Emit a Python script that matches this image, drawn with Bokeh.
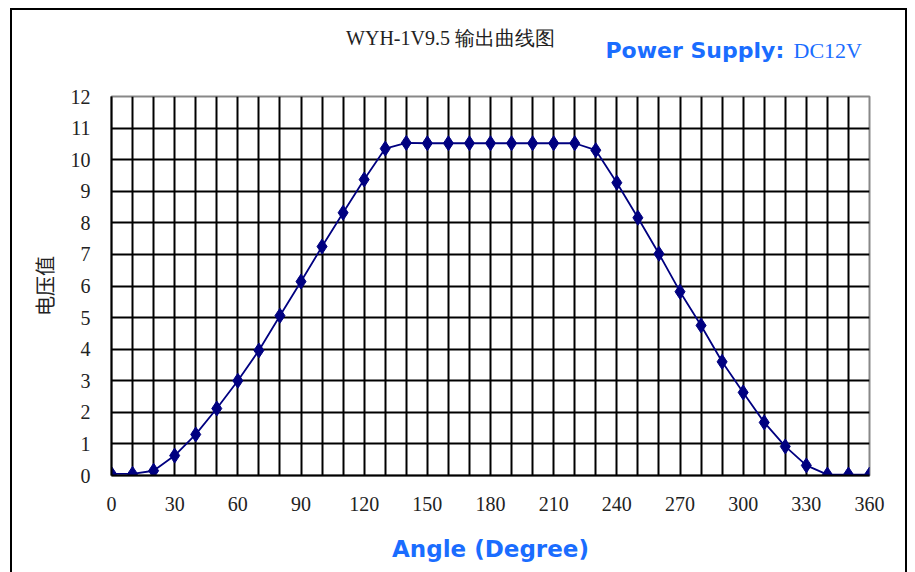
from bokeh.plotting import figure
from bokeh.models import FixedTicker, Range1d
from bokeh.layouts import column
from bokeh.core.properties import value
from bokeh.embed import file_html
from bokeh.resources import INLINE

angles = [0, 10, 20, 30, 40, 50, 60, 70, 80, 90, 100, 110, 120, 130, 140, 150, 160, 170, 180,
          190, 200, 210, 220, 230, 240, 250, 260, 270, 280, 290, 300, 310, 320, 330, 340, 350, 360]
voltage = [0.05, 0.05, 0.15, 0.63, 1.3, 2.12, 3.0, 3.96, 5.06, 6.14, 7.25, 8.32, 9.37, 10.35,
           10.53, 10.52, 10.52, 10.52, 10.52, 10.52, 10.52, 10.52, 10.52, 10.3, 9.27, 8.16, 7.02,
           5.82, 4.75, 3.6, 2.63, 1.68, 0.92, 0.32, 0.03, 0.03, 0.03]
x_ticks = [0, 30, 60, 90, 120, 150, 180, 210, 240, 270, 300, 330, 360]
y_ticks = [0, 1, 2, 3, 4, 5, 6, 7, 8, 9, 10, 11, 12]
x_grid = [10, 20, 30, 40, 50, 60, 70, 80, 90, 100, 110, 120, 130, 140, 150, 160, 170, 180,
          190, 200, 210, 220, 230, 240, 250, 260, 270, 280, 290, 300, 310, 320, 330, 340, 350]
y_grid = [1, 2, 3, 4, 5, 6, 7, 8, 9, 10, 11]

title_text = "WYH-1V9.5 输出曲线图"
supply_text = "Power Supply:"
supply_value = "DC12V"

BLUE = "#1a6dff"
NAVY = "#000080"
W = 893
HEAD_H = 74
BORDER_L = 99
BORDER_R = 36

# header strip: the column aligns its frame with the chart frame, so its x range
# is expressed in canvas pixels of that frame; y is measured from the top
head = figure(width=W, height=HEAD_H, output_backend="svg", toolbar_location=None,
              x_range=Range1d(BORDER_L, W - BORDER_R), y_range=Range1d(HEAD_H, 0),
              x_axis_type=None, y_axis_type=None,
              min_border=0, min_border_left=BORDER_L, min_border_right=BORDER_R)
head.outline_line_color = None
head.background_fill_color = "white"
head.border_fill_color = "white"
head.text(x=[438], y=[27], text=[title_text], text_font=value("Liberation Serif"),
          text_font_size="20px", text_color="#222222", text_align="center",
          text_baseline="middle")
head.text(x=[593], y=[40], text=[supply_text], text_font=value("DejaVu Sans"),
          text_font_style="bold", text_font_size="22px", text_color=BLUE,
          text_align="left", text_baseline="middle")
head.text(x=[781], y=[40], text=[supply_value], text_font=value("Liberation Serif"),
          text_font_size="22px", text_color=BLUE, text_align="left",
          text_baseline="middle")

p = figure(width=W, height=562 - HEAD_H, output_backend="svg", toolbar_location=None,
           x_range=(0, 360), y_range=(0, 12),
           min_border_left=BORDER_L, min_border_right=BORDER_R, min_border_top=12,
           min_border_bottom=97)

p.background_fill_color = "white"
p.border_fill_color = "white"
p.outline_line_color = "#888888"
p.outline_line_width = 2

p.xgrid.ticker = FixedTicker(ticks=x_grid)
p.ygrid.ticker = FixedTicker(ticks=y_grid)
for g in (p.xgrid, p.ygrid):
    g.grid_line_color = "black"
    g.grid_line_width = 2

p.xaxis.ticker = FixedTicker(ticks=x_ticks)
p.yaxis.ticker = FixedTicker(ticks=y_ticks)
for ax in (p.xaxis, p.yaxis):
    ax.axis_line_color = "black"
    ax.axis_line_width = 2
    ax.major_tick_out = 0
    ax.major_tick_in = 0
    ax.minor_tick_out = 0
    ax.minor_tick_in = 0
    ax.major_label_text_font = "Liberation Serif"
    ax.major_label_text_font_size = "20px"
    ax.major_label_text_color = "#222222"

p.xaxis.major_label_standoff = 21
p.yaxis.major_label_standoff = 21

p.xaxis.axis_label = "Angle (Degree)"
p.xaxis.axis_label_text_font = "DejaVu Sans"
p.xaxis.axis_label_text_font_style = "bold"
p.xaxis.axis_label_text_font_size = "23px"
p.xaxis.axis_label_text_color = BLUE
p.xaxis.axis_label_standoff = 22

p.yaxis.axis_label = "电压值"
p.yaxis.axis_label_text_font = "Noto Sans CJK SC"
p.yaxis.axis_label_text_font_style = "normal"
p.yaxis.axis_label_text_font_size = "20px"
p.yaxis.axis_label_text_color = "#222222"
p.yaxis.axis_label_standoff = 9

p.line(angles, voltage, line_color=NAVY, line_width=1.8)
p.scatter(angles, voltage, marker="diamond", size=15, fill_color=NAVY, line_color=NAVY)

layout = column(head, p, spacing=0)
layout.styles = {"border-top": "2px solid black", "border-left": "2px solid black",
                 "border-right": "2px solid black", "margin-left": "10px", "margin-top": "8px"}

open("out.html", "w").write(file_html(layout, INLINE))
